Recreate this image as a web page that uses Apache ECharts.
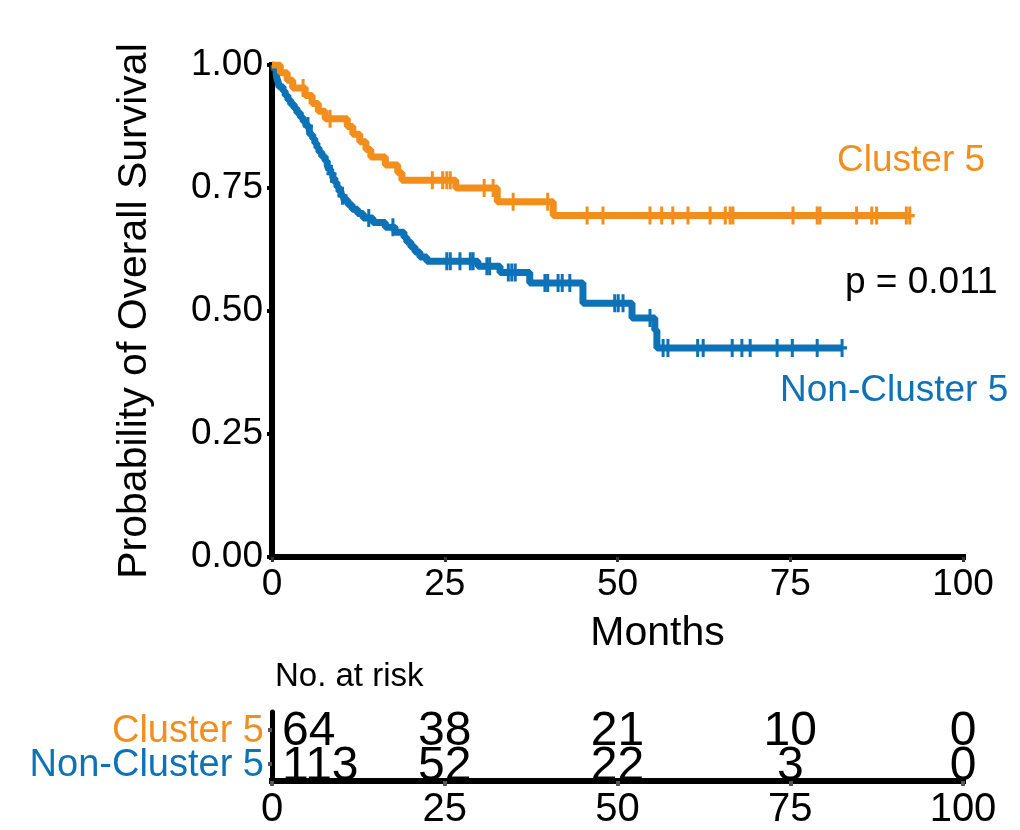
<!DOCTYPE html>
<html>
<head>
<meta charset="utf-8">
<script src="https://cdn.jsdelivr.net/npm/echarts@6/dist/echarts.min.js"></script>
<style>
  html, body { margin: 0; padding: 0; background: #ffffff; }
  #chart { width: 1020px; height: 830px; }
</style>
</head>
<body>
<div id="chart"></div>
<script>
// Kaplan-Meier step data: event times (months) and survival after each event
const clusterTimes = [0, 1.2, 2.2, 3.0, 4.8, 5.8, 6.7, 7.7, 10.9, 11.7, 12.7, 13.6, 14.3, 16.4, 18.2, 18.8, 26.6, 32.6, 40.7];
const clusterSurv  = [1, 0.984, 0.969, 0.953, 0.938, 0.922, 0.906, 0.891, 0.875, 0.859, 0.844, 0.828, 0.813, 0.797, 0.781, 0.766, 0.750, 0.722, 0.694];
const clusterEnd = 92.3;
const clusterCensor = [4.5, 8.4, 23.2, 24.7, 25.3, 25.8, 30.7, 32.0, 34.9, 39.9, 45.6, 47.9, 54.7, 56.4, 58.0, 60.2, 63.4, 65.6, 66.3, 66.7, 75.4, 78.9, 79.3, 84.6, 86.8, 87.5, 91.8, 92.3];

const otherTimes = [0, 0.3, 0.6, 0.7, 0.9, 1.0, 1.6, 1.9, 2.3, 2.7, 3.2, 3.6, 4.1, 4.5, 4.9, 5.4, 5.6, 5.9, 6.2, 6.5, 6.8, 7.2, 7.7, 8.0, 8.2, 8.5, 8.8, 9.1, 9.4, 9.7, 10.0, 10.4, 11.0, 11.6, 12.4, 13.2, 14.6, 16.4, 17.8, 19.1, 19.5, 20.1, 20.7, 21.4, 22.4, 29.8, 33.0, 37.3, 45.0, 52.1, 55.4, 55.7];
const otherSurv  = [1, 0.991, 0.982, 0.973, 0.965, 0.956, 0.947, 0.938, 0.929, 0.920, 0.912, 0.903, 0.894, 0.885, 0.876, 0.867, 0.858, 0.850, 0.841, 0.832, 0.823, 0.814, 0.805, 0.796, 0.788, 0.779, 0.770, 0.761, 0.752, 0.743, 0.734, 0.725, 0.716, 0.707, 0.698, 0.689, 0.680, 0.670, 0.660, 0.650, 0.640, 0.630, 0.620, 0.610, 0.601, 0.591, 0.578, 0.557, 0.516, 0.486, 0.461, 0.425];
const otherEnd = 82.5;
const otherCensor = [5.2, 8.6, 10.2, 14.0, 17.5, 25.3, 25.8, 27.2, 28.7, 29.1, 31.1, 31.5, 34.2, 34.7, 35.2, 39.5, 39.9, 41.4, 42.0, 43.1, 49.6, 50.1, 50.8, 54.7, 56.6, 57.3, 61.6, 62.4, 66.6, 68.0, 69.2, 73.1, 75.3, 78.9, 82.5];

// Number-at-risk table
const riskTimes = [0, 25, 50, 75, 100];
const clusterRisk = [64, 38, 21, 10, 0];
const otherRisk = [113, 52, 22, 3, 0];
const groupNames = ['Cluster 5', 'Non-Cluster 5'];
const pValueText = 'p = 0.011';

const ORANGE = '#F28E1C';
const BLUE = '#0D72B6';
const FONT = '"Liberation Sans", Arial, Helvetica, sans-serif';
const NARROW = '"Liberation Sans Narrow", "Arial Narrow", "Liberation Sans", Arial, sans-serif';

function stepData(times, surv, end) {
  const pts = times.map((t, i) => [t, surv[i]]);
  pts.push([end, surv[surv.length - 1]]);
  return pts;
}
function survAt(times, surv, t) {
  let s = surv[0];
  for (let i = 0; i < times.length; i++) if (times[i] <= t) s = surv[i];
  return s;
}
const plusPath = 'path://M3.5,0h3v7h3.5v3h-3.5v7h-3v-7h-3.5v-3h3.5z';

function censorSeries(times, surv, cens, color) {
  return {
    type: 'scatter', xAxisIndex: 0, yAxisIndex: 0, z: 4,
    symbol: plusPath, symbolSize: [10, 18],
    itemStyle: { color: color, opacity: 1 },
    data: cens.map(t => [t, survAt(times, surv, t)]),
    silent: true
  };
}

const riskData = [];
riskTimes.forEach((t, i) => {
  const first = i === 0;
  const lbl = first ? { align: 'left', offset: [10, 3] } : {};
  riskData.push({ value: [t, 1, clusterRisk[i]], label: lbl });
  riskData.push({ value: [t, 0, otherRisk[i]], label: lbl });
});

const chart = echarts.init(document.getElementById('chart'), null, { renderer: 'canvas' });
chart.setOption({
  animation: false,
  backgroundColor: '#ffffff',
  textStyle: { fontFamily: FONT },
  grid: [
    { left: 272, right: 57, top: 65, bottom: 273 },
    { left: 272, right: 57, top: 712, bottom: 48 }
  ],
  xAxis: [
    {
      gridIndex: 0, type: 'value', min: 0, max: 100, interval: 25,
      name: 'Months', nameLocation: 'middle', nameGap: 56,
      nameTextStyle: { fontSize: 41, color: '#000', fontFamily: FONT, padding: [0, 0, 0, 80] },
      axisLine: { show: true, onZero: false, lineStyle: { color: '#000', width: 6, cap: 'square' } },
      axisTick: { show: true, length: 5, lineStyle: { color: '#333', width: 3 } },
      axisLabel: { fontSize: 37, color: '#000', margin: 9, fontFamily: FONT },
      splitLine: { show: false }
    },
    {
      gridIndex: 1, type: 'value', min: 0, max: 100, interval: 25,
      axisLine: { show: true, onZero: false, lineStyle: { color: '#000', width: 6, cap: 'square' } },
      axisTick: { show: true, length: 5, lineStyle: { color: '#555', width: 4 } },
      axisLabel: { fontSize: 40, color: '#000', margin: 9, fontFamily: NARROW },
      splitLine: { show: false }
    }
  ],
  yAxis: [
    {
      gridIndex: 0, type: 'value', min: 0, max: 1, interval: 0.25,
      name: 'Probability of Overall Survival', nameLocation: 'middle', nameGap: 117,
      nameTextStyle: { fontSize: 41, color: '#000', fontFamily: FONT },
      axisLine: { show: true, onZero: false, lineStyle: { color: '#000', width: 6, cap: 'square' } },
      axisTick: { show: true, length: 5, lineStyle: { color: '#000', width: 4 } },
      axisLabel: { fontSize: 37, color: '#000', margin: 9, fontFamily: FONT, formatter: v => v.toFixed(2) },
      splitLine: { show: false }
    },
    {
      gridIndex: 1, type: 'category', data: [groupNames[1], groupNames[0]],
      axisLine: { show: true, onZero: false, lineStyle: { color: '#000', width: 5 } },
      axisTick: { show: true, alignWithLabel: true, interval: 0, length: 4, lineStyle: { color: '#555', width: 4 } },
      axisLabel: {
        interval: 0, hideOverlap: false,
        margin: 8, fontSize: 38, fontFamily: FONT,
        formatter: v => v === groupNames[0] ? '{a|' + v + '}' : '{b|' + v + '}',
        rich: {
          a: { color: ORANGE, fontSize: 38, fontFamily: FONT, padding: [4, 0, 0, 0] },
          b: { color: BLUE, fontSize: 38, fontFamily: FONT, padding: [4, 0, 0, 0] }
        }
      },
      splitLine: { show: false }
    }
  ],
  graphic: [
    { type: 'text', left: 837, top: 142, style: { text: groupNames[0], fill: ORANGE, font: '37px ' + FONT } },
    { type: 'text', left: 845, top: 264, style: { text: pValueText, fill: '#000', font: '37px ' + FONT } },
    { type: 'text', left: 780, top: 372, style: { text: groupNames[1], fill: BLUE, font: '37px ' + FONT } },
    { type: 'text', left: 275, top: 660, style: { text: 'No. at risk', fill: '#000', font: '33px ' + FONT } }
  ],
  series: [
    {
      type: 'line', xAxisIndex: 0, yAxisIndex: 0, step: 'end', z: 3,
      showSymbol: false, symbol: 'none',
      lineStyle: { color: BLUE, width: 7 },
      data: stepData(otherTimes, otherSurv, otherEnd), silent: true
    },
    censorSeries(otherTimes, otherSurv, otherCensor, BLUE),
    {
      type: 'line', xAxisIndex: 0, yAxisIndex: 0, step: 'end', z: 3,
      showSymbol: false, symbol: 'none',
      lineStyle: { color: ORANGE, width: 7 },
      data: stepData(clusterTimes, clusterSurv, clusterEnd), silent: true
    },
    censorSeries(clusterTimes, clusterSurv, clusterCensor, ORANGE),
    {
      type: 'scatter', xAxisIndex: 1, yAxisIndex: 1, symbolSize: 0, silent: true,
      itemStyle: { opacity: 1 },
      label: {
        show: true, position: 'inside', color: '#000', opacity: 1, textBorderWidth: 0,
        fontSize: 48, fontFamily: NARROW, offset: [0, 3],
        formatter: p => String(p.value[2])
      },
      data: riskData
    }
  ]
});
</script>
</body>
</html>
